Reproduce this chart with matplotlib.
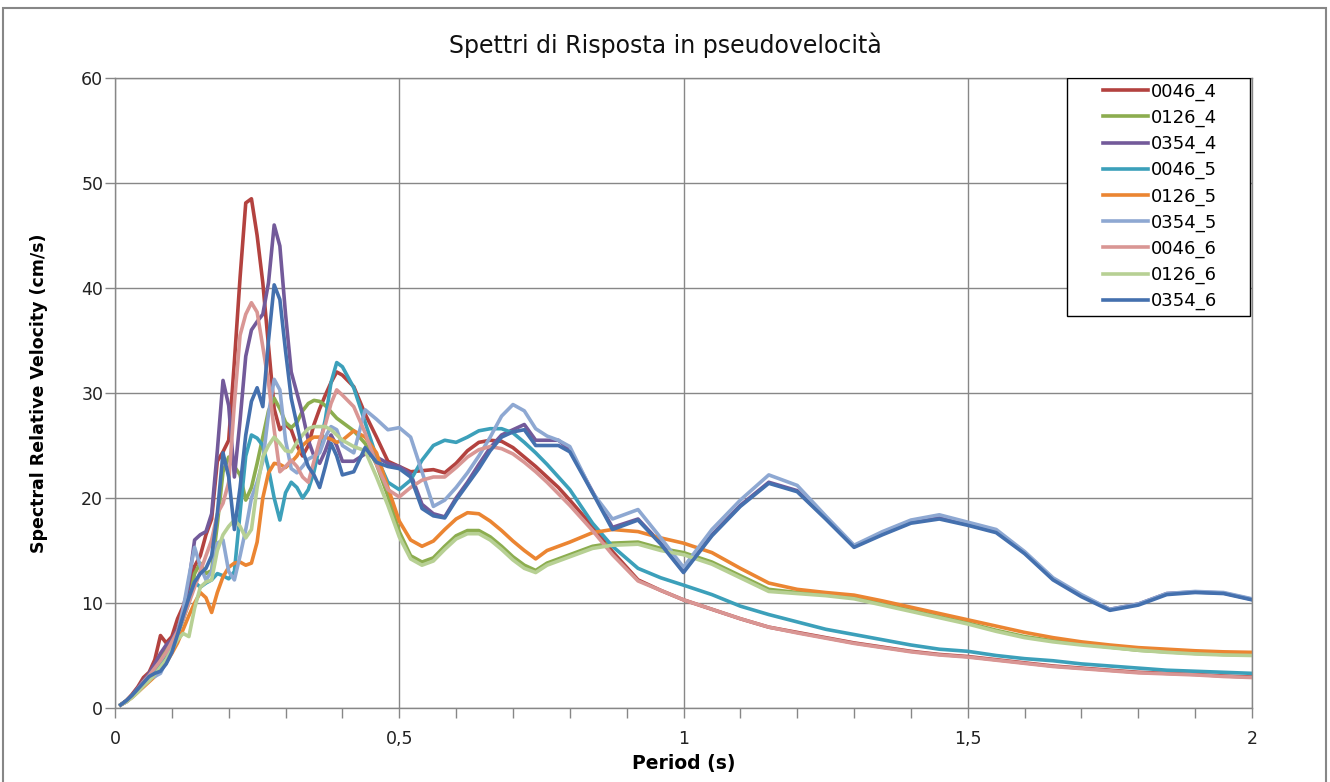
import matplotlib
matplotlib.use("Agg")
import matplotlib.pyplot as plt
from matplotlib.patches import Rectangle
from matplotlib.ticker import MultipleLocator, FuncFormatter

# periods (s)
periods = [0.01, 0.02, 0.03, 0.04, 0.05, 0.06, 0.07, 0.08, 0.09, 0.10,
           0.11, 0.12, 0.13, 0.14, 0.15, 0.16, 0.17, 0.18, 0.19, 0.20,
           0.21, 0.22, 0.23, 0.24, 0.25, 0.26, 0.27, 0.28, 0.29, 0.30,
           0.31, 0.32, 0.33, 0.34, 0.35, 0.36, 0.37, 0.38, 0.39, 0.40,
           0.42, 0.44, 0.46, 0.48, 0.50, 0.52, 0.54, 0.56, 0.58, 0.60,
           0.62, 0.64, 0.66, 0.68, 0.70, 0.72, 0.74, 0.76, 0.78, 0.80,
           0.84, 0.875, 0.92, 0.96, 1.00,
           1.05, 1.10, 1.15, 1.20, 1.25, 1.30, 1.35, 1.40, 1.45, 1.50,
           1.55, 1.60, 1.65, 1.70, 1.75, 1.80, 1.85, 1.90, 1.95, 2.00]

v_0046_4 = [0.3, 0.7, 1.3, 2.0, 2.9, 3.4, 4.6, 6.9, 6.2, 6.8,
            8.5, 9.7, 11.5, 13.5, 14.5, 16.5, 18.0, 23.5, 24.4, 25.5,
            33.0, 41.0, 48.1, 48.5, 45.0, 40.5, 34.5, 28.5, 26.5, 27.0,
            26.5, 25.0, 24.0, 25.0, 27.0, 28.5, 29.8, 31.0, 32.0, 31.7,
            30.6, 28.0, 25.8, 23.5, 23.0, 22.5, 22.6, 22.7, 22.4, 23.3,
            24.5, 25.3, 25.5, 25.4, 24.8, 23.9, 23.0, 22.0, 21.0, 19.8,
            17.3, 14.9, 12.2, 11.2, 10.3,
            9.4, 8.5, 7.7, 7.2, 6.7, 6.2, 5.8, 5.4, 5.1, 4.9,
            4.6, 4.3, 4.0, 3.8, 3.6, 3.4, 3.3, 3.2, 3.05, 2.95]

v_0126_4 = [0.3, 0.7, 1.2, 1.8, 2.4, 3.0, 3.7, 5.0, 5.7, 6.3,
            7.2, 8.5, 10.0, 12.8, 13.8, 12.8, 13.1, 17.5, 22.5, 23.9,
            23.0, 22.2, 19.8, 21.0, 23.3, 25.8, 28.3, 29.5, 28.5, 27.2,
            26.7, 27.2, 28.3, 29.0, 29.3, 29.2, 28.8, 28.2, 27.6, 27.2,
            26.4, 25.2, 23.2, 20.2, 16.8, 14.5, 13.9, 14.3, 15.4, 16.4,
            16.9, 16.9, 16.3, 15.4, 14.4, 13.6, 13.1, 13.8, 14.2, 14.6,
            15.4, 15.7, 15.8, 15.2, 14.8,
            13.9, 12.6, 11.3, 11.0, 10.8, 10.5, 9.9, 9.3, 8.7, 8.1,
            7.4, 6.8, 6.4, 6.1, 5.8, 5.5, 5.35, 5.2, 5.1, 5.05]

v_0354_4 = [0.3, 0.7, 1.2, 1.9, 2.6, 3.3, 4.2, 5.2, 6.0, 6.5,
            7.5, 9.0, 12.0, 16.0, 16.5, 16.8, 18.5, 24.5, 31.2, 28.8,
            22.0, 27.4, 33.5, 36.0, 36.8, 37.5, 40.5, 46.0, 44.0, 37.5,
            32.0, 30.0, 28.0, 25.5, 24.0, 23.3, 24.5, 26.0, 25.0, 23.5,
            23.5, 24.2, 23.9, 23.3, 23.0, 22.3, 19.4, 18.5, 18.2, 20.0,
            21.5, 23.2, 24.8, 26.0, 26.5, 27.0, 25.5, 25.5, 25.5, 24.6,
            20.6, 17.2, 18.0, 15.7, 13.0,
            16.5, 19.3, 21.5, 20.7, 18.1, 15.4, 16.6, 17.7, 18.1, 17.5,
            16.8, 14.8, 12.3, 10.7, 9.4, 9.9, 10.9, 11.05, 10.95, 10.35]

v_0046_5 = [0.3, 0.6, 1.1, 1.7, 2.3, 2.9, 3.6, 4.2, 4.8, 5.5,
            7.0, 8.5, 10.5, 12.0, 11.5, 11.9, 12.2, 12.8, 12.6, 12.3,
            13.0, 18.6, 24.0, 26.0, 25.7, 25.0, 22.8, 20.0, 17.9, 20.5,
            21.5, 21.0, 20.0, 20.8, 22.5, 25.0, 27.5, 31.0, 32.9, 32.5,
            30.5, 27.2, 23.9, 21.5, 20.8, 21.7, 23.6, 25.0, 25.5, 25.3,
            25.8, 26.4, 26.6, 26.6, 26.2, 25.3, 24.3, 23.2, 22.0, 20.8,
            17.6, 15.4, 13.3, 12.4, 11.7,
            10.8, 9.7, 8.9, 8.2, 7.5, 7.0, 6.5, 6.0, 5.6, 5.4,
            5.0, 4.7, 4.5, 4.2, 4.0, 3.8, 3.6, 3.5, 3.4, 3.3]

v_0126_5 = [0.3, 0.6, 1.0, 1.5, 2.0, 2.5, 3.0, 3.6, 4.3, 5.2,
            6.2, 7.5, 8.8, 10.0, 11.0, 10.5, 9.1, 11.0, 12.5, 13.4,
            13.8, 13.9, 13.6, 13.8, 15.8, 20.0, 22.4, 23.3, 23.2, 22.9,
            23.4, 24.0, 25.0, 25.5, 25.8, 25.8, 25.8, 25.6, 25.3, 25.5,
            26.4, 25.8, 24.3, 21.0, 17.8, 16.0, 15.4, 15.9, 17.0, 18.0,
            18.6, 18.5, 17.8, 16.9, 15.9, 15.0, 14.2, 15.0, 15.4, 15.8,
            16.7, 17.0, 16.8, 16.2, 15.7,
            14.8, 13.3, 11.9, 11.3, 11.0, 10.75, 10.2, 9.6, 9.0, 8.4,
            7.8, 7.2, 6.7, 6.3, 6.0, 5.75, 5.6, 5.45, 5.35, 5.3]

v_0354_5 = [0.3, 0.6, 1.1, 1.6, 2.2, 2.8, 3.0, 3.3, 4.5, 5.8,
            7.2, 9.5, 12.5, 15.3, 13.5, 12.2, 13.0, 15.7, 16.0, 13.0,
            12.2, 14.5, 17.0, 20.0, 21.5, 23.5, 28.0, 31.3, 30.3, 25.5,
            22.8, 22.4, 23.0, 23.7, 24.0, 24.3, 25.8, 26.8, 26.5, 25.0,
            24.3, 28.4, 27.5, 26.5, 26.7, 25.8, 22.5, 19.2, 19.8, 21.0,
            22.4, 24.0, 25.8, 27.8, 28.9, 28.3, 26.6, 25.9, 25.5, 24.9,
            20.5, 18.0, 18.9, 16.2, 13.4,
            17.0, 19.8, 22.2, 21.2, 18.3, 15.5, 16.8, 17.9, 18.4, 17.7,
            17.0, 14.9, 12.4, 10.8, 9.4, 9.9, 10.9, 11.1, 11.0, 10.4]

v_0046_6 = [0.3, 0.6, 1.1, 1.8, 2.5, 3.1, 3.8, 4.5, 5.3, 6.3,
            7.3, 8.5, 10.0, 11.5, 13.0, 14.5, 16.0, 18.5, 19.5, 21.5,
            29.0, 35.5, 37.5, 38.6, 37.7, 34.4, 31.0, 26.5, 22.5, 23.0,
            23.6, 23.0, 22.0, 21.5, 23.5, 25.5, 27.0, 29.0, 30.3, 29.8,
            28.7, 26.2, 23.2, 20.8, 20.1, 21.0, 21.7, 22.0, 22.0, 22.9,
            23.9, 24.6, 24.9, 24.7, 24.2, 23.4, 22.5, 21.5, 20.4, 19.3,
            16.9, 14.6, 12.1, 11.2, 10.3,
            9.4, 8.5, 7.7, 7.15, 6.65, 6.15, 5.75, 5.35, 5.05, 4.85,
            4.55, 4.25, 3.95, 3.75, 3.55, 3.35, 3.25, 3.15, 3.0, 2.9]

v_0126_6 = [0.3, 0.6, 1.0, 1.5, 2.1, 2.6, 3.2, 3.9, 4.6, 5.5,
            6.5, 7.1, 6.8, 9.5, 11.5, 12.0, 12.2, 15.0, 16.5, 17.3,
            17.9, 17.3, 16.2, 17.0, 21.0, 23.9, 25.0, 25.8, 25.2, 24.5,
            24.4, 25.3, 26.0, 26.6, 26.8, 26.8, 26.8, 26.5, 26.0, 25.5,
            24.9, 24.5, 22.0, 19.3, 16.3, 14.2, 13.6, 14.0, 15.1, 16.1,
            16.6, 16.6, 16.0, 15.1, 14.1, 13.3, 12.9, 13.6, 14.0, 14.4,
            15.2, 15.5, 15.6, 15.0, 14.6,
            13.7, 12.4, 11.1, 10.9, 10.7, 10.4, 9.8, 9.2, 8.6, 8.0,
            7.3, 6.7, 6.3, 6.0, 5.75, 5.5, 5.3, 5.15, 5.05, 5.0]

v_0354_6 = [0.3, 0.7, 1.2, 1.8, 2.4, 3.0, 3.3, 3.5, 4.2, 5.3,
            7.0, 8.8, 10.5, 12.0, 12.8, 13.3, 14.5, 18.5, 24.3, 22.0,
            17.0, 21.0, 26.0, 29.2, 30.5, 28.7, 35.0, 40.3, 38.9, 34.0,
            29.5, 27.0, 24.5, 23.0, 22.2, 21.0, 23.0, 25.2, 24.0, 22.2,
            22.5, 24.8, 23.4, 23.0, 22.8, 22.0, 19.0, 18.3, 18.1, 19.8,
            21.3, 22.8, 24.5, 25.8, 26.3, 26.5, 25.0, 25.0, 25.0, 24.4,
            20.5, 17.0, 17.9, 15.6, 12.9,
            16.4, 19.2, 21.4, 20.6, 18.0, 15.3, 16.5, 17.6, 18.0, 17.4,
            16.7, 14.7, 12.2, 10.6, 9.3, 9.8, 10.8, 11.0, 10.9, 10.3]

labels = ["0046_4", "0126_4", "0354_4", "0046_5", "0126_5", "0354_5",
          "0046_6", "0126_6", "0354_6"]
series = [v_0046_4, v_0126_4, v_0354_4, v_0046_5, v_0126_5, v_0354_5,
          v_0046_6, v_0126_6, v_0354_6]
colors = ["#B3423F", "#8CAD4F", "#735A9A", "#3CA0BA", "#EB8532", "#8EA8D2",
          "#D99694", "#B7D094", "#4470AE"]

plt.rcParams["font.family"] = ["DejaVu Sans"]
gray = "#878787"
W, H = 1330, 782

fig = plt.figure(figsize=(W / 100, H / 100), dpi=100)
# outer chart border
fig.patches.append(Rectangle((3 / W, -0.02), 1323 / W, 1.02 - 8 / H,
                             transform=fig.transFigure, fill=False,
                             edgecolor=gray, linewidth=1.5))

ax = fig.add_axes([115 / W, 1 - 708 / H, (1252 - 115) / W, (708 - 78) / H])

for vals, lab, col in zip(series, labels, colors):
    ax.plot(periods, vals, color=col, linewidth=2.6, label=lab,
            solid_joinstyle="round")

ax.set_xlim(0, 2)
ax.set_ylim(0, 60)
ax.xaxis.set_major_locator(MultipleLocator(0.5))
ax.xaxis.set_minor_locator(MultipleLocator(0.1))
ax.yaxis.set_major_locator(MultipleLocator(10))
ax.xaxis.set_major_formatter(FuncFormatter(lambda v, p: f"{v:g}".replace(".", ",")))
ax.grid(True, which="major", color=gray, linewidth=1.0)
ax.set_axisbelow(True)
for s in ax.spines.values():
    s.set_color(gray)
    s.set_linewidth(1.0)
ax.tick_params(axis="both", which="both", direction="out", color=gray,
               length=7, width=1.0, labelsize=12.5, labelcolor="#222222")
ax.tick_params(axis="x", pad=9)
ax.tick_params(axis="y", pad=1.5)

ax.set_xlabel("Period (s)", fontsize=13.5, fontweight="bold", labelpad=4)
ax.set_ylabel("Spectral Relative Velocity (cm/s)", fontsize=12.5,
              fontweight="bold", labelpad=24)
fig.text(0.5, 1 - 45 / H, "Spettri di Risposta in pseudovelocità",
         ha="center", va="center", fontsize=17, color="#111111")

# legend: content without frame, box drawn separately to get Excel-like padding
leg = ax.legend(loc="upper left", bbox_to_anchor=((1103 - 115) / 1137, 0.993),
                borderaxespad=0, borderpad=0, fontsize=13, frameon=False,
                handlelength=2.5, handletextpad=0.15, labelspacing=0.44)
ax.add_patch(Rectangle(((1067 - 115) / 1137, (708 - 316) / 630),
                       (1250 - 1067) / 1137, (316 - 78) / 630,
                       transform=ax.transAxes, fill=True, facecolor="white",
                       edgecolor="black", linewidth=1.0, zorder=4))
leg.set_zorder(5)

fig.savefig("out.png", dpi=100)
